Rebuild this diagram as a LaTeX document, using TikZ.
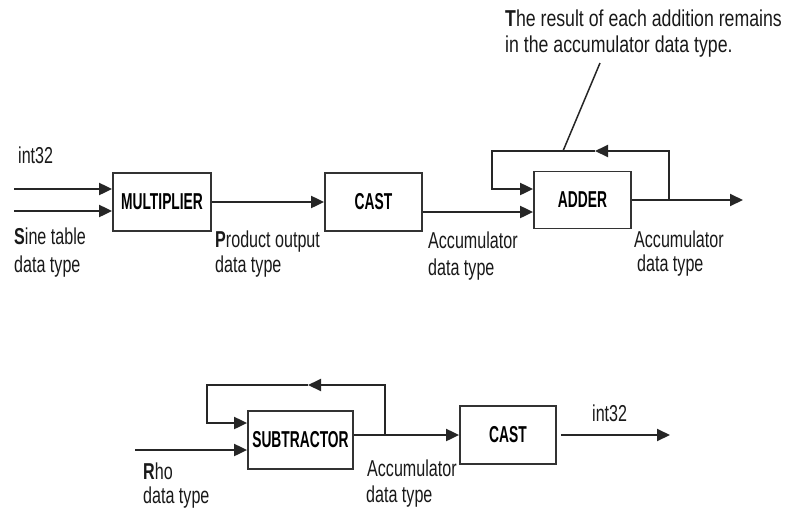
\documentclass[tikz,border=0pt]{standalone}
\usepackage{fontspec}
\setmainfont[FakeStretch=0.70]{Liberation Sans}
\newfontfamily\notefont[FakeStretch=0.77]{Liberation Sans}
\newfontfamily\boxfont[FakeStretch=0.60]{Liberation Sans}
\usetikzlibrary{arrows.meta}
\begin{document}
\begin{tikzpicture}[x=1pt,y=-1pt,
  blk/.style={draw=black!80,line width=1.8pt,inner sep=0pt,
    font=\boxfont\bfseries\fontsize{23}{24}\selectfont},
  lbl/.style={anchor=base west,inner sep=0pt,text=black!90,font=\fontsize{23}{24}\selectfont},
  note/.style={anchor=base west,inner sep=0pt,text=black!90,font=\notefont\fontsize{23}{24}\selectfont},
  wire/.style={line width=2pt,draw=black!85},
  arr/.style={wire,-{Triangle[length=13pt,width=12pt]}}]
\useasboundingbox (0,0) rectangle (793,515);
% top row blocks
\node[blk,minimum width=98pt,minimum height=58pt] (mult) at (162,202) {MULTIPLIER};
\node[blk,minimum width=97pt,minimum height=58pt] (cast1) at (373.5,202) {CAST};
\node[blk,minimum width=97pt,minimum height=57pt] (adder) at (582.5,200) {ADDER};
% top row connectors
\coordinate (in1) at (14,189);
\coordinate (in2) at (14,211);
\draw[arr] (in1) -- (mult.west |- in1);
\draw[arr] (in2) -- (mult.west |- in2);
\draw[arr] (mult.east) -- (cast1.west);
\coordinate (adin2) at (adder.west |- 0,212);
\draw[arr] (cast1.east |- adin2) -- (adin2);
\coordinate (aout) at (743,200);
\draw[arr] (adder.east) -- (aout);
\coordinate (asplit) at (669,200);
\coordinate (atopR) at (669,151);
\coordinate (aarrow) at (595,151);
\coordinate (atopL) at (492,151);
\coordinate (adin1) at (adder.west |- 0,189);
\draw[arr] (asplit) |- (aarrow);
\draw[arr] (aarrow) -- (atopL) |- (adin1);
\coordinate (annS) at (563,151);
\coordinate (annE) at (600,63);
\draw[line width=1.5pt,black!85] (annS) -- (annE);
% top row texts
\node[lbl] (t1) at (18,163) {int32};
\node[lbl] (t2) at (14,244) {\textbf{S}ine table};
\node[lbl] (t3) at (14,272) {data type};
\node[lbl] (t4) at (215,247) {\textbf{P}roduct output};
\node[lbl] (t5) at (215,272) {data type};
\node[lbl] (t6) at (428,248) {Accumulator};
\node[lbl] (t7) at (428,275) {data type};
\node[lbl] (t8) at (634,247) {Accumulator};
\node[lbl] (t9) at (637,271) {data type};
\node[note] (n1) at (505,26) {\textbf{T}he result of each addition remains};
\node[note] (n2) at (505,52) {in the accumulator data type.};
% bottom row blocks
\node[blk,minimum width=105pt,minimum height=58pt] (sub) at (300.5,440) {SUBTRACTOR};
\node[blk,minimum width=96pt,minimum height=58pt] (cast2) at (508,435) {CAST};
% bottom row connectors
\coordinate (rin) at (135,450);
\draw[arr] (rin) -- (sub.west |- rin);
\coordinate (sout) at (sub.east |- 0,435);
\draw[arr] (sout) -- (cast2.west);
\coordinate (ssplit) at (385,435);
\coordinate (stopR) at (385,385);
\coordinate (sarrow) at (308,385);
\coordinate (stopL) at (207,385);
\coordinate (sin1) at (sub.west |- 0,423);
\draw[arr] (ssplit) |- (sarrow);
\draw[arr] (sarrow) -- (stopL) |- (sin1);
\coordinate (c2s) at ([xshift=4pt]cast2.east);
\coordinate (c2e) at (670,435);
\draw[arr] (c2s) -- (c2e);
% bottom row texts
\node[lbl] (b1) at (143,479) {\textbf{R}ho};
\node[lbl] (b2) at (143,503) {data type};
\node[lbl] (b3) at (367,476) {Accumulator};
\node[lbl] (b4) at (366,502) {data type};
\node[lbl] (b5) at (592,421) {int32};
\end{tikzpicture}
\end{document}
